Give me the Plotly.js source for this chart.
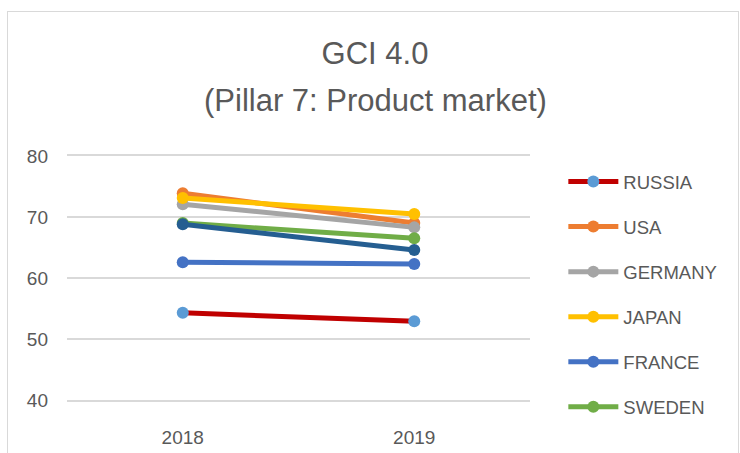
<!DOCTYPE html>
<html>
<head>
<meta charset="utf-8">
<script src="https://cdn.plot.ly/plotly-3.0.1.min.js"></script>
<style>
  html, body { margin: 0; padding: 0; background: #fff; overflow: hidden; }
  #wrap { position: relative; width: 740px; height: 453px; }
  #chart { position: absolute; left: 0; top: 0; width: 740px; height: 453px; }
  #frame { position: absolute; left: 7px; top: 11px; width: 732px; height: 460px;
           border: 1px solid #D9D9D9; box-sizing: border-box; pointer-events: none; }
</style>
</head>
<body>
<div id="wrap">
  <div id="chart"></div>
  <div id="frame"></div>
</div>
<script>
const years = ['2018', '2019'];
const russia  = [54.3, 52.9];
const usa     = [73.9, 69.0];
const germany = [72.1, 68.3];
const japan   = [73.1, 70.5];
const france  = [62.6, 62.3];
const sweden  = [69.0, 66.5];
const other   = [68.8, 64.6];

const titleLine1 = 'GCI 4.0';
const titleLine2 = '(Pillar 7: Product market)';

const seriesNames  = ['RUSSIA', 'USA', 'GERMANY', 'JAPAN', 'FRANCE', 'SWEDEN', ''];
const seriesValues = [russia, usa, germany, japan, france, sweden, other];
const lineColors   = ['#C00000', '#ED7D31', '#A5A5A5', '#FFC000', '#4472C4', '#70AD47', '#255E91'];
const markerColors = ['#5B9BD5', '#ED7D31', '#A5A5A5', '#FFC000', '#4472C4', '#70AD47', '#255E91'];

const traces = seriesValues.map((vals, i) => ({
  type: 'scatter',
  mode: 'lines+markers',
  x: years,
  y: vals,
  name: seriesNames[i],
  legendgroup: 'g' + i,
  showlegend: seriesNames[i] !== '',
  line: { color: lineColors[i], width: 5 },
  marker: { color: markerColors[i], size: 12 },
  hoverinfo: 'skip'
}));

const font = 'Liberation Sans, Arial, sans-serif';

const layout = {
  width: 740,
  height: 453,
  paper_bgcolor: '#FFFFFF',
  plot_bgcolor: '#FFFFFF',
  margin: { l: 67, r: 210, t: 156, b: 53, autoexpand: false },
  title: {
    text: titleLine1,
    font: { family: font, size: 31, color: '#595959' },
    x: 375 / 740, xanchor: 'center', xref: 'container',
    y: 1 - 53 / 453, yanchor: 'middle', yref: 'container'
  },
  annotations: [{
    text: titleLine2,
    font: { family: font, size: 31, color: '#595959' },
    xref: 'paper', yref: 'paper',
    x: (375 - 67) / 463, xanchor: 'center',
    y: 1 + (156 - 100) / 244, yanchor: 'middle',
    showarrow: false
  }],
  showlegend: true,
  legend: {
    x: 1.072, xanchor: 'left',
    yref: 'container',
    y: 1 - 163 / 453, yanchor: 'top',
    maxheight: 1,
    font: { family: font, size: 18.5, color: '#595959' },
    itemwidth: 50,
    traceorder: 'grouped',
    tracegroupgap: 18,
    bgcolor: 'rgba(0,0,0,0)'
  },
  xaxis: {
    type: 'category',
    range: [-0.5, 1.5],
    showgrid: false,
    showline: true,
    linecolor: '#D9D9D9',
    linewidth: 2,
    mirror: true,
    zeroline: false,
    ticks: '',
    ticklabelstandoff: 19,
    tickfont: { family: font, size: 19, color: '#595959' },
    fixedrange: true
  },
  yaxis: {
    range: [40, 80],
    tickvals: [40, 50, 60, 70, 80],
    ticktext: ['40', '50', '60', '70', '80'],
    showgrid: true,
    gridcolor: '#D9D9D9',
    gridwidth: 2,
    zeroline: false,
    showline: false,
    ticks: '',
    ticklabelstandoff: 18,
    tickfont: { family: font, size: 19, color: '#595959' },
    fixedrange: true
  }
};

Plotly.newPlot('chart', traces, layout, { staticPlot: true, displayModeBar: false });
</script>
</body>
</html>
